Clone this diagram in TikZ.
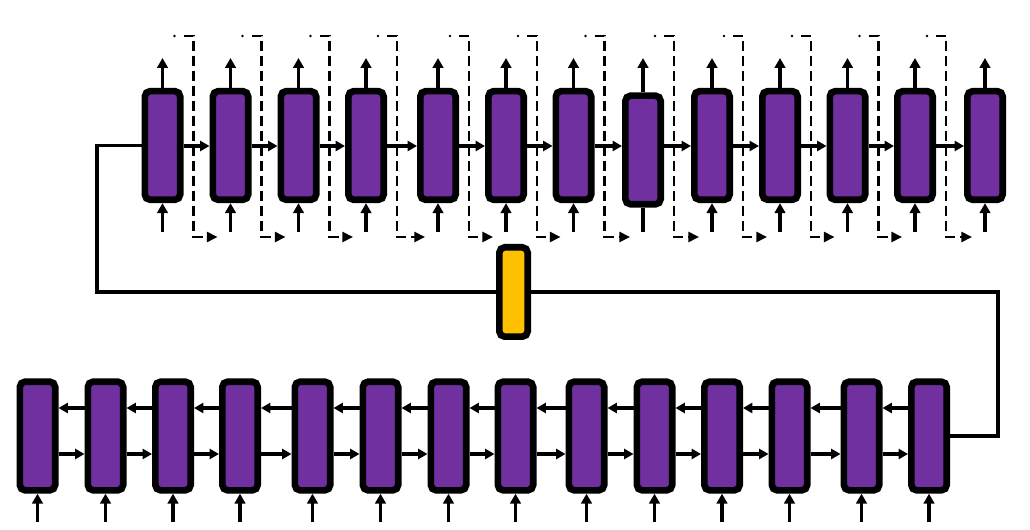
\documentclass[tikz,border=0pt]{standalone}
\usetikzlibrary{arrows.meta,calc}
\definecolor{cellpurple}{HTML}{7030A0}
\definecolor{cellyellow}{HTML}{FFC000}
\begin{document}
\begin{tikzpicture}[x=0.75pt,y=-0.75pt,
  cell/.style={draw=black,fill=cellpurple,line width=5pt,rounded corners=4pt,
    minimum width=26.5pt,minimum height=81.5pt,inner sep=0pt},
  gate/.style={draw=black,fill=cellyellow,line width=5pt,rounded corners=4pt,
    minimum width=21.25pt,minimum height=67pt,inner sep=0pt},
  flow/.style={line width=2.3pt,-{Triangle[length=7pt,width=7.5pt]}},
  io/.style={line width=2.5pt,-{Triangle[length=7.5pt,width=8pt]}},
  bare/.style={line width=2.5pt},
  loopline/.style={line width=2.5pt},
  skipline/.style={line width=1.9pt,dash pattern=on 7.5pt off 3.75pt,
    -{Triangle[length=8pt,width=7.5pt]}},
]
\useasboundingbox (0,0) rectangle (1030,530);
% reference rows
\coordinate (rowA) at (0,146);
\coordinate (otop) at (0,58);
\coordinate (ibot) at (0,232);
\coordinate (dtop) at (0,36);
\coordinate (dbot) at (0,237);
\coordinate (back) at (0,408);
\coordinate (fwd) at (0,454);
\coordinate (bin) at (0,522);
\coordinate (cR) at (998,292);
\coordinate (cL) at (97,292);
% top row cells
\foreach \x/\y [count=\i] in {162.5/145.5,230.5/145.5,298.5/145.5,366/145.5,438/145.5,506/145.5,573.5/145.5,643/150,712/145.5,780/145.5,847.5/145.5,915/145.5,985/145.5}
  \node[cell] (t\i) at (\x,\y) {};
% bottom row cells
\foreach \x [count=\i] in {37.5,105.5,173,240,312.5,380.5,448.5,515.5,586.5,654.5,722,789.5,861.5,929}
  \node[cell] (b\i) at (\x,436) {};
% top row connectors
\foreach \i [evaluate=\i as \j using int(\i+1)] in {1,...,12}{
  \draw[flow] (t\i.east |- rowA) -- (t\j.west |- rowA);
  \fill ($(t\i.north east |- dtop)+(-9,0)$) circle (1.4);
  \draw[skipline] (t\i.north east |- dtop) -- ($(t\i.north east |- dtop)+(10,0)$)
    -- ($(t\i.north east |- dbot)+(10,0)$) -- ($(t\j.south |- dbot)+(-13,0)$);
}
\foreach \i in {1,...,13}
  \draw[io] (t\i.north) -- (t\i.north |- otop);
\foreach \i in {1,...,7,9,10,11,12,13}
  \draw[io] (t\i.south |- ibot) -- (t\i.south);
\draw[bare] (t8.south |- ibot) -- (t8.south);
% bottom row connectors
\foreach \i [evaluate=\i as \j using int(\i+1)] in {1,...,13}{
  \draw[flow] (b\j.west |- back) -- (b\i.east |- back);
  \draw[flow] (b\i.east |- fwd) -- (b\j.west |- fwd);
}
\foreach \i in {1,...,14}
  \draw[io] (b\i.south |- bin) -- (b\i.south);
% loop
\draw[loopline] (b14.east) -| (cR) -- (cL) |- (t1.west);
\node[gate] (g) at (513.5,292) {};
\end{tikzpicture}
\end{document}
